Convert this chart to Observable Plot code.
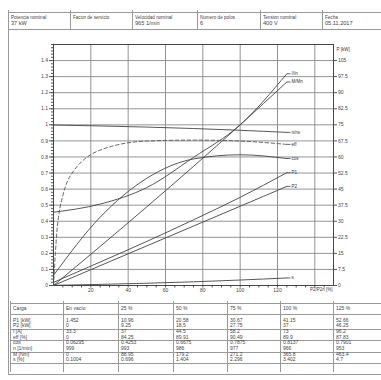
<!DOCTYPE html>
<html>
<head>
<meta charset="utf-8">
<script src="https://cdn.jsdelivr.net/npm/d3@7"></script>
<script src="https://cdn.jsdelivr.net/npm/@observablehq/plot@0.6"></script>
<style>
  body { margin: 0; background: #fff; }
  #page { position: relative; width: 381px; height: 380px; overflow: hidden;
          font-family: "Liberation Sans", Arial, sans-serif; color: #444; }
  .t { position: absolute; white-space: nowrap; line-height: 1; }
  .h { position: absolute; background: #999; height: 1px; }
  .v { position: absolute; background: #999; width: 1px; }
  #chart { position: absolute; left: 0; top: 30px; }
</style>
</head>
<body>
<div id="page"><div id="chart"></div></div>
<script>
// Motor nameplate header
const headerLabels = ["Potencia nominal", "Factor de servicio", "Velocidad nominal", "Numero de polos", "Tension nominal", "Fecha"];
const headerValues = ["37 kW", "", "965 1/min", "6", "400 V", "05.11.2017"];

// Load points (% of rated output) and measured quantities
const loadNames = ["En vacío", "25 %", "50 %", "75 %", "100 %", "125 %"];
const loads = [0, 25, 50, 75, 100, 125];
const P1 = [1.452, 10.96, 20.58, 30.67, 41.15, 52.66];   // kW
const P2 = [0, 9.25, 18.5, 27.75, 37, 46.25];            // kW
const I = [33.3, 37, 44.5, 58.2, 73, 96.2];              // A
const eff = [0, 84.25, 89.91, 90.49, 89.9, 87.83];       // %
const cosPhi = [0.06295, 0.4253, 0.6675, 0.7875, 0.8137, 0.7901];
const n = [999, 993, 986, 977, 966, 953];                // 1/min
const M = [0, 88.95, 179.2, 271.2, 365.8, 463.4];        // Nm
const s = [0.1004, 0.696, 1.404, 2.296, 3.402, 4.7];     // %

// Efficiency at light load (below 25 %), where the curve rises steeply
const effLowX = [0, 0.5, 1, 2, 3, 5, 7.5, 10, 15, 20];
const effLowY = [0, 10, 20, 36, 45, 56, 65, 70, 77, 81.5];

const syncSpeed = 1000;   // 6 poles, 50 Hz
const kWPerUnit = 75;     // right axis: 1.0 on the left scale = 75 kW

const rowNames = ["P1 [kW]", "P2 [kW]", "I [A]", "eff [%]", "cos", "n [1/min]", "M [Nm]", "s [%]"];
const rowValues = [P1, P2, I, eff, cosPhi, n, M, s];

// ---- curves in per-unit ----
const rated = 4; // index of the 100 % column
const pts = (vals, f) => loads.map((x, i) => ({x, y: f(vals[i])}));
const series = [
  {name: "I/In", pts: pts(I, v => v / I[rated])},
  {name: "M/Mn", pts: pts(M, v => v / M[rated])},
  {name: "n/ns", pts: pts(n, v => v / syncSpeed)},
  {name: "eff", dashed: true, pts: [
    ...effLowX.map((x, i) => ({x, y: effLowY[i] / 100})),
    ...loads.slice(1).map((x, i) => ({x, y: eff[i + 1] / 100}))
  ]},
  {name: "cos", pts: pts(cosPhi, v => v)},
  {name: "P1", pts: pts(P1, v => v / kWPerUnit)},
  {name: "P2", pts: pts(P2, v => v / kWPerUnit)},
  {name: "s", pts: pts(s, v => v / 100)}
];
const solid = series.filter(d => !d.dashed).flatMap(d => d.pts.map(p => ({...p, name: d.name})));
const dashed = series.filter(d => d.dashed).flatMap(d => d.pts.map(p => ({...p, name: d.name})));
const ends = series.map(d => ({...d.pts[d.pts.length - 1], name: d.name}));

const fmt1 = d => String(+d.toFixed(2));
const blank = () => "";

const chart = Plot.plot({
  width: 381, height: 265,
  marginLeft: 53, marginRight: 48, marginTop: 14, marginBottom: 10,
  x: {domain: [0, 150], label: null},
  y: {domain: [0, 1.5], label: null},
  style: {fontFamily: "Liberation Sans, Arial, sans-serif", fontSize: "5px", color: "#444", background: "white"},
  marks: [
    Plot.ruleX(d3.range(20, 150, 20), {stroke: "#888", strokeWidth: 0.9, strokeOpacity: 1}),
    Plot.ruleY(d3.range(1, 15).map(k => k / 10), {stroke: "#888", strokeWidth: 0.9, strokeOpacity: 1}),
    // left axis
    Plot.axisY({anchor: "left", ticks: d3.range(0, 76).map(k => k / 50), tickSize: 2, tickFormat: blank, label: null, stroke: "#555"}),
    Plot.axisY({anchor: "left", ticks: d3.range(0, 15).map(k => k / 10), tickSize: 4, tickPadding: 1.5, tickFormat: fmt1, label: null, stroke: "#555"}),
    // right axis in kW
    Plot.axisY({anchor: "right", ticks: d3.range(0, 15).map(k => k / 10), tickSize: 3, tickPadding: 1.5, tickFormat: d => fmt1(d * kWPerUnit), label: null, stroke: "#555"}),
    // bottom axis
    Plot.axisX({anchor: "bottom", ticks: d3.range(5, 150, 5), tickSize: 2.5, tickFormat: blank, label: null, stroke: "#555"}),
    Plot.axisX({anchor: "bottom", ticks: d3.range(20, 140, 20), tickSize: 0, tickPadding: 3, tickFormat: d => String(d), label: null}),
    Plot.frame({stroke: "#333", strokeWidth: 0.9}),
    Plot.line(solid, {x: "x", y: "y", z: "name", curve: "monotone-x", stroke: "#444", strokeWidth: 0.9}),
    Plot.line(dashed, {x: "x", y: "y", z: "name", curve: "monotone-x", stroke: "#555", strokeWidth: 0.9, strokeDasharray: "3.5,2.5"}),
    Plot.link(ends, {x1: "x", y1: "y", x2: d => d.x + 2, y2: "y", stroke: "#444", strokeWidth: 0.8}),
    Plot.text(ends, {x: d => d.x + 2, y: "y", text: "name", textAnchor: "start", dx: 1, fontSize: 4.5, fill: "#333"}),
    Plot.text(["P [kW]"], {x: 150, y: 1.5, dx: 3, dy: 5, textAnchor: "start", fontSize: 4.5, fill: "#333"}),
    Plot.text(["P2/P2n [%]"], {x: 150, y: 0, dx: -1, dy: 4, textAnchor: "end", fontSize: 4.5, fill: "#333"})
  ]
});
document.getElementById("chart").append(chart);

// ---- helper for absolutely placed text and rules ----
const page = document.getElementById("page");
function txt(x, y, str, size, weight) {
  const el = document.createElement("div");
  el.className = "t";
  el.style.left = x + "px"; el.style.top = y + "px";
  el.style.fontSize = size + "px";
  if (weight) el.style.fontWeight = weight;
  el.textContent = str;
  page.append(el);
}
function hline(x, y, w) {
  const el = document.createElement("div");
  el.className = "h"; el.style.left = x + "px"; el.style.top = y + "px"; el.style.width = w + "px";
  page.append(el);
}
function vline(x, y, h) {
  const el = document.createElement("div");
  el.className = "v"; el.style.left = x + "px"; el.style.top = y + "px"; el.style.height = h + "px";
  page.append(el);
}

// outer border
vline(8, 10, 365); hline(8, 374, 373);

// header strip
const headX = [8, 70, 132, 197, 260, 322];
hline(8, 12, 373); hline(8, 29, 373);
headX.forEach((x, i) => {
  vline(x, 10, 19);
  txt(x + 3, 15.5, headerLabels[i], 4.6);
  txt(x + 3, 20.5, headerValues[i], 5.6);
});

// data table
const colX = [10, 63, 118, 173, 227, 280, 333];
hline(10, 303, 371);
colX.forEach(x => vline(x, 301, 71));
txt(colX[0] + 3, 305.5, "Carga", 5);
loadNames.forEach((name, j) => txt(colX[j + 1] + 3, 305.5, name, 5));
hline(10, 314, 371);
const rowY = k => 317.5 + k * 5.7;
rowNames.forEach((name, k) => {
  txt(colX[0] + 3, rowY(k), name, 5);
  rowValues[k].forEach((v, j) => txt(colX[j + 1] + 3, rowY(k), String(v), 5));
  if (k % 2 === 1) hline(10, rowY(k) + 5.7, 371);
});
</script>
</body>
</html>
